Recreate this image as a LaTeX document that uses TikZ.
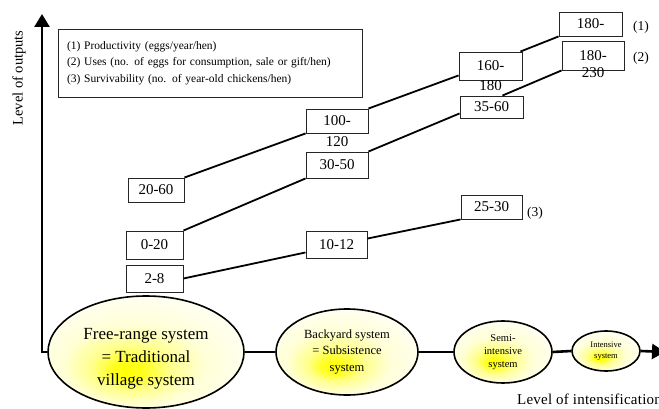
\documentclass[tikz,border=0pt]{standalone}
\usepackage{fontspec}
\setmainfont{Liberation Serif}
\usetikzlibrary{arrows.meta,shapes.geometric}
\pgfdeclareradialshading{sysshade}{\pgfpoint{-5bp}{-9bp}}{%
  color(0bp)=(yellow); color(4bp)=(yellow!88!white); color(10bp)=(yellow!45!white);
  color(18bp)=(yellow!16!white); color(28bp)=(yellow!6!white); color(40bp)=(yellow!2!white); color(50bp)=(white)}
\tikzset{
  box/.style={draw=black!85, line width=0.9pt, rectangle, inner sep=0pt, font=\fontsize{15}{17}\selectfont},
  txt/.style={inner sep=0pt, font=\fontsize{15}{17}\selectfont},
  tag/.style={inner sep=0pt, font=\fontsize{13.5}{15}\selectfont},
  link/.style={line width=1.8pt},
  axis/.style={line width=2.6pt},
  tip/.style={-{Triangle[length=13pt,width=15pt]}},
  sys/.style={ellipse, draw, line width=1.6pt, inner sep=0pt, shading=sysshade, shade, align=center},
}
\begin{document}
\begin{tikzpicture}[x=1pt,y=-1pt]
\useasboundingbox (0,0) rectangle (659,409);

% legend
\node[draw=black!85, line width=0.9pt, minimum width=304pt, minimum height=68pt, text width=286pt, inner xsep=9pt, inner ysep=0pt, align=left, font=\fontsize{11.5}{16.5}\selectfont] (legend) at (210,63)
 {(1) Productivity (eggs/year/hen)\\(2) Uses (no. of eggs for consumption, sale or gift/hen)\\(3) Survivability (no. of year-old chickens/hen)};

% axis labels
\node[inner sep=0pt, rotate=90, font=\fontsize{14.5}{17}\selectfont] (ylab) at (19,78) {Level of outputs};
\node[inner sep=0pt, anchor=base west, font=\fontsize{15}{17}\selectfont\addfontfeatures{LetterSpace=1.5}] (xlab) at (517,404) {Level of intensification};

% boxes
\node[box, minimum width=56pt, minimum height=24pt] (b2060) at (156,190) {20-60};
\node[box, minimum width=62pt, minimum height=24pt] (b100) at (337,121) {100-};
\node[txt] (b100b) at ([yshift=-21pt]b100.center) {120};
\node[box, minimum width=62pt, minimum height=26pt] (b3050) at (337,165) {30-50};
\node[box, minimum width=63pt, minimum height=28pt] (b160) at (490.5,66) {160-};
\node[txt] (b160b) at ([yshift=-20pt]b160.center) {180};
\node[box, minimum width=63pt, minimum height=22pt] (b3560) at (491.5,107) {35-60};
\node[box, minimum width=63pt, minimum height=24pt] (b180a) at (590.5,24) {180-};
\node[box, minimum width=62pt, minimum height=29pt] (b180b) at (593,55.5) {180-};
\node[txt] (b180bb) at ([yshift=-17pt]b180b.center) {230};
\node[box, minimum width=57pt, minimum height=28pt] (b020) at (154.5,245) {0-20};
\node[box, minimum width=57pt, minimum height=27pt] (b28) at (154.5,278.5) {2-8};
\node[box, minimum width=61pt, minimum height=27pt] (b1012) at (336.5,244.5) {10-12};
\node[box, minimum width=61pt, minimum height=24pt] (b2530) at (491.5,207) {25-30};

\node[tag] (t1) at (641,27) {(1)};
\node[tag] (t2) at (641,58) {(2)};
\node[tag] (t3) at (535,213) {(3)};

% connectors
\draw[link] (b2060.north east) -- (b100.south west);
\draw[link] (b100.north east) -- ([yshift=5pt]b160.south west);
\draw[link] ([xshift=-2pt]b160.north east) -- (b180a.south west);
\draw[link] (b020.north east) -- (b3050.south west);
\draw[link] (b3050.north east) -- ([yshift=5pt]b3560.south west);
\draw[link] ([xshift=-21pt]b3560.north east) -- (b180b.south west);
\draw[link] (b28.east) -- ([yshift=6pt]b1012.south west);
\draw[link] ([yshift=-8pt]b1012.north east) -- (b2530.south west);

% systems
\node[sys, minimum width=196pt, minimum height=112pt,
  label={[inner sep=0pt, yshift=-7pt, align=center, font=\fontsize{17}{23}\selectfont]center:Free-range system\\= Traditional\\village system}] (e1) at (146,352) {};
\node[sys, minimum width=142pt, minimum height=86pt, font=\fontsize{12.5}{16.5}\selectfont] (e2) at (347,352)
 {Backyard system\\= Subsistence\\system};
\node[sys, minimum width=98pt, minimum height=62pt, font=\fontsize{10.5}{13}\selectfont] (e3) at (503,352)
 {Semi-\\intensive\\system};
\node[sys, minimum width=68pt, minimum height=40pt, font=\fontsize{8.5}{11}\selectfont] (e4) at (606,351)
 {Intensive\\system};

\coordinate (ytop) at (42,14);
\coordinate (xend) at (665,352);
\draw[axis, tip] (e1.west) -| (ytop);
\draw[axis] (e1.east) -- (e2.west);
\draw[axis] (e2.east) -- (e3.west);
\draw[axis] (e3.east) -- (e4.west);
\draw[axis, tip] (e4.east) -- (xend);
\end{tikzpicture}
\end{document}
